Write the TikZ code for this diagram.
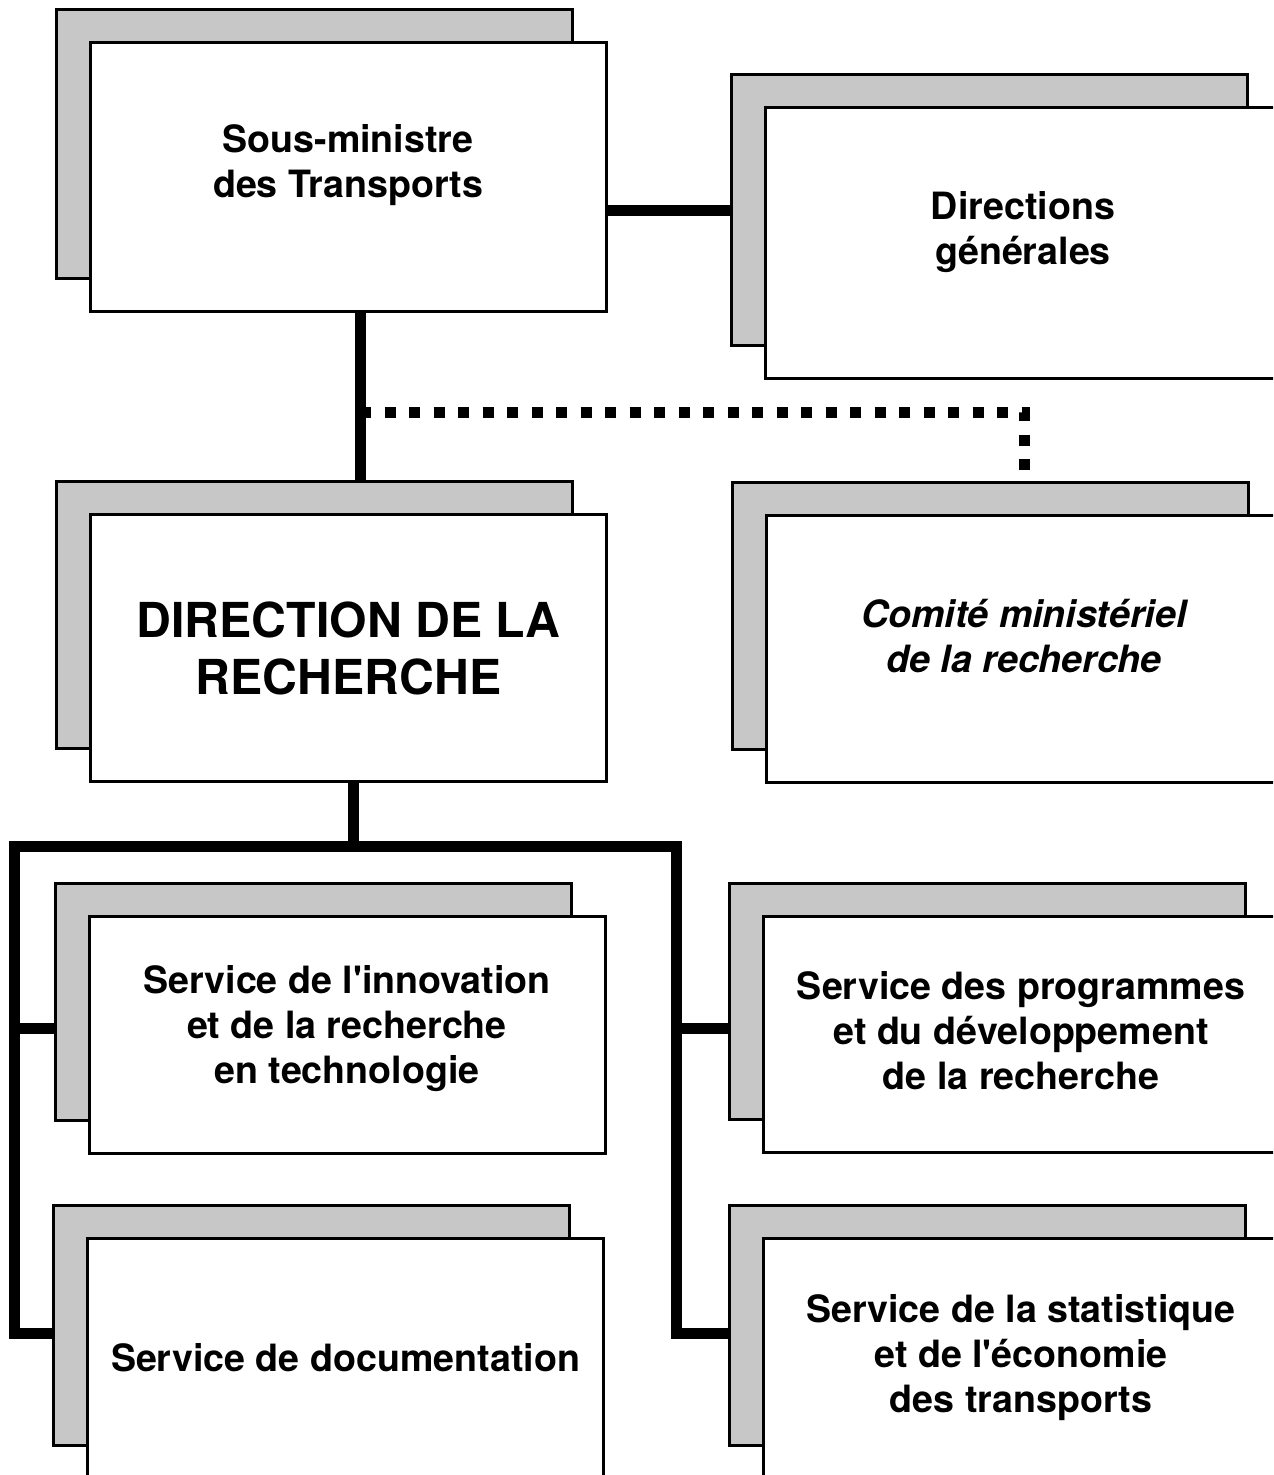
\documentclass[tikz,border=0pt]{standalone}
\usepackage{fontspec}
\setmainfont{TeX Gyre Heros}[Ligatures=TeXOff]
\usetikzlibrary{calc}

\tikzset{
	shade/.style={
		draw,
		line width=1.5pt,
		fill=black!22,
		minimum width=258pt,
		inner sep=0pt,
	},
	box/.style={
		draw,
		line width=1.5pt,
		fill=white,
		minimum width=258pt,
		inner sep=0pt,
		align=center,
		font=\bfseries\fontsize{18.8}{22.5}\selectfont,
	},
	bigbox/.style={
		box,
		font=\bfseries\fontsize{24.1}{28.5}\selectfont,
	},
	link/.style={
		line width=5.5pt,
	},
	dots/.style={
		line width=5.5pt,
		dash pattern=on 5.5pt off 6.75pt,
	},
}

\begin{document}
\begin{tikzpicture}[x=0.5pt, y=-0.5pt]
\clip (0,0) rectangle (1273,1475);
\fill[white] (0,0) rectangle (1273,1475);

% shadows
\node[shade, minimum height=134.5pt] (sm-sh) at (314,144.5) {};
\node[shade, minimum height=135.5pt] (dg-sh) at (989,210.5) {};
\node[shade, minimum height=133pt] (dr-sh) at (314.5,615) {};
\node[shade, minimum height=133pt] (cm-sh) at (990,616) {};
\node[shade, minimum height=118.5pt] (si-sh) at (313,1001.5) {};
\node[shade, minimum height=118pt] (sp-sh) at (987,1001) {};
\node[shade, minimum height=120pt] (sd-sh) at (311.5,1325) {};
\node[shade, minimum height=120pt] (ss-sh) at (987,1325) {};

% boxes
\node[box, minimum height=134.5pt, text depth=16pt] (sm) at (348,177.5)
	{Sous-ministre\\des Transports};
\node[box, minimum height=135.5pt, text depth=15.4pt] (dg) at (1023,243.5)
	{Directions\\générales};
\node[bigbox, minimum height=133pt] (dr) at (348.5,648)
	{DIRECTION DE LA\\RECHERCHE};
\node[box, minimum height=133pt, text depth=13pt, font=\bfseries\itshape\fontsize{18.8}{22.5}\selectfont] (cm) at (1024,649)
	{Comité ministériel\\de la recherche};
\node[box, minimum height=118.5pt, text depth=10.4pt] (si) at (347,1034.5)
	{Service de l'innovation\\et de la recherche\\en technologie};
\node[box, minimum height=118pt, text depth=4pt] (sp) at (1021,1034)
	{Service des programmes\\et du développement\\de la recherche};
\node[box, minimum height=120pt] (sd) at (345.5,1358)
	{Service de documentation};
\node[box, minimum height=120pt] (ss) at (1021,1358)
	{Service de la statistique\\et de l'économie\\des transports};

% junctions
\coordinate (j1) at (360,413);
\coordinate (j2) at (353,846);
\coordinate (bl) at (14,846);
\coordinate (br) at (676,846);
\coordinate (row1) at (0,1028);
\coordinate (row2) at (0,1333);

% connectors
\draw[link] (dg-sh.west -| sm.east) -- (dg-sh.west);
\draw[link] (sm.south -| j1) -- (dr-sh.north -| j1);
\draw[dots, shorten >=5.5pt] (j1) -| (cm-sh.north -| cm.north);
\draw[link] (dr.south -| j2) -- (j2);
\draw[link] (sd-sh.west |- row2) -| (bl) -- (br) |- (ss-sh.west |- row2);
\draw[link] (bl |- row1) -- (si-sh.west |- row1);
\draw[link] (br |- row1) -- (sp-sh.west |- row1);
\end{tikzpicture}
\end{document}
